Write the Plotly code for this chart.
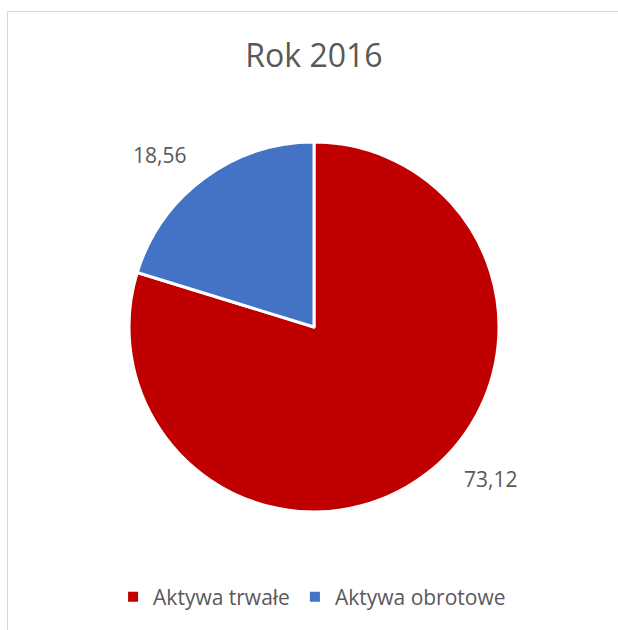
import plotly.graph_objects as go

categories = ["Aktywa trwałe", "Aktywa obrotowe"]
values = [73.12, 18.56]
colors = ["#C00000", "#4472C4"]
title_text = "Rok 2016"

W, H = 618, 630
FONT = "Open Sans"
TXT = "#595959"

def fmt(v):
    return f"{v:.2f}".replace(".", ",")

fig = go.Figure()
fig.add_trace(go.Pie(
    labels=categories,
    values=values,
    marker=dict(colors=colors, line=dict(color="white", width=3)),
    sort=False,
    direction="clockwise",
    rotation=0,
    textinfo="none",
    hoverinfo="label+value",
    domain=dict(x=[129 / W, 499 / W], y=[1 - 512 / H, 1 - 142 / H]),
))

# data labels (positioned as in the reference, text taken from the values)
label_pos = [(490, 479), (159, 155)]
annotations = []
for v, (px, py) in zip(values, label_pos):
    annotations.append(dict(
        x=px / W, y=1 - py / H, xref="paper", yref="paper",
        text=fmt(v), showarrow=False, xanchor="center", yanchor="middle",
        font=dict(family=FONT, size=21, color=TXT),
    ))

fig.update_layout(
    width=W, height=H,
    margin=dict(l=0, r=0, t=0, b=0),
    paper_bgcolor="white",
    plot_bgcolor="white",
    title=dict(text=title_text, x=314 / W, xanchor="center", y=1 - 56 / H, yanchor="middle",
               font=dict(family=FONT, size=32, color=TXT)),
    showlegend=True,
    legend=dict(orientation="h", x=0.505, xanchor="center", y=1 - 597 / H, yanchor="middle",
                font=dict(family=FONT, size=21, color=TXT), itemsizing="constant",
                traceorder="normal"),
    annotations=annotations,
    shapes=[dict(type="rect", xref="paper", yref="paper",
                 x0=7.5 / W, x1=1.02, y0=-0.02, y1=1 - 11.5 / H,
                 line=dict(color="#D9D9D9", width=1), fillcolor="rgba(0,0,0,0)", layer="below")],
)

fig.write_html("out.html", config={"displayModeBar": False},
               post_script="document.body.style.margin='0';document.body.style.overflow='hidden';")
